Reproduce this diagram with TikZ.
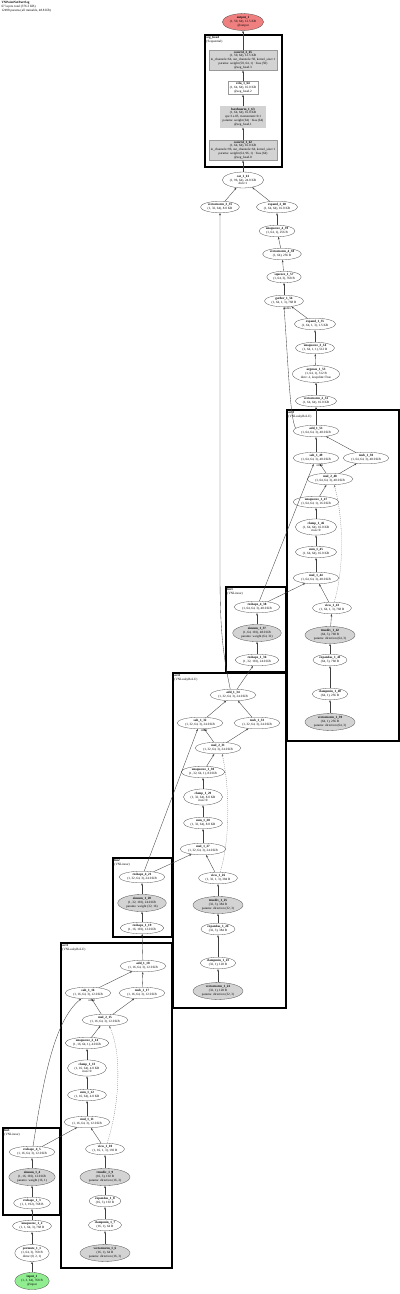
\documentclass[tikz,border=0pt]{standalone}
\usepackage{fontspec}
\setmainfont{Liberation Serif}
\usetikzlibrary{arrows.meta, shapes.geometric, fit, calc}
\definecolor{nodegrey}{HTML}{D3D3D3}
\definecolor{outred}{HTML}{F08080}
\definecolor{ingreen}{HTML}{90EE90}
\newcommand{\nfont}{\fontsize{6.5}{7.6}\selectfont}
\newcommand{\op}[2]{\textbf{#1}\\#2}
\tikzset{
  >={Stealth[length=5pt, width=3.6pt]},
  op/.style={ellipse, draw=black!70, line width=0.6pt, fill=white, align=center,
             inner xsep=3pt, inner ysep=1.5pt, font=\nfont},
  opg/.style={op, fill=nodegrey},
  opr/.style={op, fill=outred},
  opi/.style={op, fill=ingreen},
  lay/.style={rectangle, draw=black!40, line width=0.5pt, fill=nodegrey, align=center,
              inner xsep=4pt, inner ysep=2.5pt, font=\nfont},
  layw/.style={lay, fill=white},
  layd/.style={lay, draw=black!60, line width=0.7pt, double=nodegrey, double distance=1.6pt},
  clus/.style={rectangle, draw=black, line width=2.6pt, inner sep=0pt},
  clab/.style={anchor=north west, align=left, inner sep=1pt, font=\nfont},
  flow/.style={->, line width=0.7pt, draw=black!75},
  flowd/.style={->, line width=0.6pt, draw=black!55, dash pattern=on 2pt off 2pt},
  lbl/.style={font=\nfont, inner sep=0.5pt},
}

\begin{document}
\begin{tikzpicture}[x=2pt, y=-2pt]
  \useasboundingbox (0,0) rectangle (400,1294);
  \node[clab] (hdr) at (1,1) {\textbf{VNPointNetPartSeg}\\67 layers total (376.3 KB)\\12498 params (all trainable, 48.8 KB)};

  % head
  \node[opr] (out) at (243,22) {\op{output\_1}{(1, 50, 64), 12.5 KB\\@output}};
  \node[clus, fit={(205,35) (282,167)}] (seghead) {};
  \node[clab] at ($(seghead.north west)+(1.5,1.5)$) {\textbf{seg\_head}\\(Sequential)};
  \node[lay] (convB) at (243,60) {\op{conv1d\_2\_65}{(1, 50, 64), 12.5 KB\\in\_channels=64, out\_channels=50, kernel\_size=1\\params: weight (50, 64, 1) · bias (50)\\@seg\_head.3}};
  \node[layw] (relu) at (243,88) {\op{relu\_1\_64}{(1, 64, 64), 16.0 KB\\@seg\_head.2}};
  \node[layd] (bn) at (243,117) {\op{batchnorm\_1\_63}{(1, 64, 64), 16.0 KB\\eps=1e-05, momentum=0.1\\params: weight (64) · bias (64)\\@seg\_head.1}};
  \node[lay] (convA) at (243,150) {\op{conv1d\_1\_62}{(1, 64, 64), 16.0 KB\\in\_channels=96, out\_channels=64, kernel\_size=1\\params: weight (64, 96, 1) · bias (64)\\@seg\_head.0}};
  \node[op] (cat) at (243,180) {\op{cat\_1\_61}{(1, 96, 64), 24.0 KB\\dim=1}};
  \node[op] (vnA) at (220,207) {\op{vectornorm\_3\_35}{(1, 32, 64), 8.0 KB}};
  \node[op] (expB) at (277,207) {\op{expand\_2\_60}{(1, 64, 64), 16.0 KB}};
  \node[op] (usqB) at (277,231) {\op{unsqueeze\_4\_59}{(1, 64, 1), 256 B}};
  \node[op] (vnB) at (282,254) {\op{vectornorm\_4\_58}{(1, 64), 256 B}};
  \node[op] (sqz) at (284,277) {\op{squeeze\_1\_57}{(1, 64, 3), 768 B}};
  \node[op] (gat) at (284,301) {\op{gather\_1\_56}{(1, 64, 1, 3), 768 B}};
  \node[op] (expA) at (315,324) {\op{expand\_1\_55}{(1, 64, 1, 3), 1.5 KB}};
  \node[op] (usqA) at (315,348) {\op{unsqueeze\_3\_54}{(1, 64, 1, 1), 512 B}};
  \node[op] (amx) at (316,374) {\op{argmax\_1\_53}{(1, 64, 1), 512 B\\dim=-1, keepdim=True}};
  \node[op] (vnC) at (316,401) {\op{vectornorm\_2\_52}{(1, 64, 64), 16.0 KB}};

  % act3
  \node[clus, fit={(287,410) (399,741)}] (act3) {};
  \node[clab] at ($(act3.north west)+(1.5,1.5)$) {\textbf{act3}\\(VNLeakyReLU)};
  \node[op] (add3) at (316,431) {\op{add\_1\_51}{(1, 64, 64, 3), 48.0 KB}};
  \node[op] (sub3) at (316,458) {\op{sub\_1\_49}{(1, 64, 64, 3), 48.0 KB}};
  \node[op] (rsub3) at (366,458) {\op{rsub\_1\_50}{(1, 64, 64, 3), 48.0 KB}};
  \node[op] (mb3) at (330,479) {\op{mul\_2\_48}{(1, 64, 64, 3), 48.0 KB}};
  \node[op] (usq3) at (316,502) {\op{unsqueeze\_1\_47}{(1, 64, 64, 1), 16.0 KB}};
  \node[op] (clp3) at (316,527) {\op{clamp\_1\_46}{(1, 64, 64), 16.0 KB\\max=0}};
  \node[op] (sum3) at (316,552) {\op{sum\_1\_45}{(1, 64, 64), 16.0 KB}};
  \node[op] (ma3) at (316,578) {\op{mul\_1\_44}{(1, 64, 64, 3), 48.0 KB}};
  \node[op] (view3) at (332,608) {\op{view\_1\_43}{(1, 64, 1, 3), 768 B}};
  \node[opg] (div3) at (330,635) {\op{truediv\_1\_42}{(64, 3), 768 B\\params: direction (64, 3)}};
  \node[op] (exas3) at (330,660) {\op{expandas\_1\_41}{(64, 3), 768 B}};
  \node[op] (cmin3) at (330,694) {\op{clampmin\_1\_40}{(64, 1), 256 B}};
  \node[opg] (vn3) at (330,722) {\op{vectornorm\_1\_39}{(64, 1), 256 B\\params: direction (64, 3)}};

  % lin3
  \node[clus, fit={(226,587) (286,672)}] (lin3) {};
  \node[clab] at ($(lin3.north west)+(1.5,1.5)$) {\textbf{lin3}\\(VNLinear)};
  \node[op] (ro3) at (257,607) {\op{reshape\_4\_38}{(1, 64, 64, 3), 48.0 KB}};
  \node[opg] (eins3) at (257,633) {\op{einsum\_1\_37}{(1, 64, 192), 48.0 KB\\params: weight (64, 32)}};
  \node[op] (ri3) at (257,660) {\op{reshape\_1\_36}{(1, 32, 192), 24.0 KB}};

  % act2
  \node[clus, fit={(173,673) (286,1008)}] (act2) {};
  \node[clab] at ($(act2.north west)+(1.5,1.5)$) {\textbf{act2}\\(VNLeakyReLU)};
  \node[op] (add2) at (233,695) {\op{add\_1\_34}{(1, 32, 64, 3), 24.0 KB}};
  \node[op] (sub2) at (200,723) {\op{sub\_1\_32}{(1, 32, 64, 3), 24.0 KB}};
  \node[op] (rsub2) at (257,723) {\op{rsub\_1\_33}{(1, 32, 64, 3), 24.0 KB}};
  \node[op] (mb2) at (218,748) {\op{mul\_2\_31}{(1, 32, 64, 3), 24.0 KB}};
  \node[op] (usq2) at (203,772) {\op{unsqueeze\_1\_30}{(1, 32, 64, 1), 8.0 KB}};
  \node[op] (clp2) at (203,797) {\op{clamp\_1\_29}{(1, 32, 64), 8.0 KB\\max=0}};
  \node[op] (sum2) at (203,823) {\op{sum\_1\_28}{(1, 32, 64), 8.0 KB}};
  \node[op] (ma2) at (203,849) {\op{mul\_1\_27}{(1, 32, 64, 3), 24.0 KB}};
  \node[op] (view2) at (218,878) {\op{view\_1\_26}{(1, 32, 1, 3), 384 B}};
  \node[opg] (div2) at (218,905) {\op{truediv\_1\_25}{(32, 3), 384 B\\params: direction (32, 3)}};
  \node[op] (exas2) at (218,929) {\op{expandas\_1\_24}{(32, 3), 384 B}};
  \node[op] (cmin2) at (218,963) {\op{clampmin\_1\_23}{(32, 1), 128 B}};
  \node[opg] (vn2) at (218,991) {\op{vectornorm\_1\_22}{(32, 1), 128 B\\params: direction (32, 3)}};

  % lin2
  \node[clus, fit={(113,858) (172,937)}] (lin2) {};
  \node[clab] at ($(lin2.north west)+(1.5,1.5)$) {\textbf{lin2}\\(VNLinear)};
  \node[op] (ro2) at (142,877) {\op{reshape\_4\_21}{(1, 32, 64, 3), 24.0 KB}};
  \node[opg] (eins2) at (142,903) {\op{einsum\_1\_20}{(1, 32, 192), 24.0 KB\\params: weight (32, 16)}};
  \node[op] (ri2) at (142,928) {\op{reshape\_1\_19}{(1, 16, 192), 12.0 KB}};

  % act1
  \node[clus, fit={(61,943) (172,1268)}] (act1) {};
  \node[clab] at ($(act1.north west)+(1.5,1.5)$) {\textbf{act1}\\(VNLeakyReLU)};
  \node[op] (add1) at (143,966) {\op{add\_1\_18}{(1, 16, 64, 3), 12.0 KB}};
  \node[op] (sub1) at (88,993) {\op{sub\_1\_16}{(1, 16, 64, 3), 12.0 KB}};
  \node[op] (rsub1) at (142,993) {\op{rsub\_1\_17}{(1, 16, 64, 3), 12.0 KB}};
  \node[op] (mb1) at (105,1020) {\op{mul\_2\_15}{(1, 16, 64, 3), 12.0 KB}};
  \node[op] (usq1) at (87,1043) {\op{unsqueeze\_2\_14}{(1, 16, 64, 1), 4.0 KB}};
  \node[op] (clp1) at (87,1068) {\op{clamp\_1\_13}{(1, 16, 64), 4.0 KB\\max=0}};
  \node[op] (sum1) at (87,1095) {\op{sum\_1\_12}{(1, 16, 64), 4.0 KB}};
  \node[op] (ma1) at (87,1122) {\op{mul\_1\_11}{(1, 16, 64, 3), 12.0 KB}};
  \node[op] (view1) at (105,1149) {\op{view\_1\_10}{(1, 16, 1, 3), 192 B}};
  \node[opg] (div1) at (105,1177) {\op{truediv\_1\_9}{(16, 3), 192 B\\params: direction (16, 3)}};
  \node[op] (exas1) at (105,1201) {\op{expandas\_1\_8}{(16, 3), 192 B}};
  \node[op] (cmin1) at (105,1225) {\op{clampmin\_1\_7}{(16, 1), 64 B}};
  \node[opg] (vn1) at (105,1253) {\op{vectornorm\_1\_6}{(16, 1), 64 B\\params: direction (16, 3)}};

  % lin1 and input
  \node[clus, fit={(3,1128) (60,1215)}] (lin1) {};
  \node[clab] at ($(lin1.north west)+(1.5,1.5)$) {\textbf{lin1}\\(VNLinear)};
  \node[op] (ro1) at (32,1152) {\op{reshape\_4\_5}{(1, 16, 64, 3), 12.0 KB}};
  \node[opg] (eins1) at (32,1177) {\op{einsum\_1\_4}{(1, 16, 192), 12.0 KB\\params: weight (16, 1)}};
  \node[op] (ri1) at (32,1203) {\op{reshape\_1\_3}{(1, 1, 192), 768 B}};
  \node[op] (usq0) at (32,1226) {\op{unsqueeze\_1\_2}{(1, 1, 64, 3), 768 B}};
  \node[op] (perm) at (32,1253) {\op{permute\_1\_1}{(1, 64, 3), 768 B\\dims=(0, 2, 1)}};
  \node[opi] (inp) at (32,1281) {\op{input\_1}{(1, 3, 64), 768 B\\@input}};

  % head edges
  \draw[flow] (convB) -- (out);
  \draw[flow] (relu) -- (convB);
  \draw[flow] (bn) -- (relu);
  \draw[flow] (convA) -- (bn);
  \draw[flow] (cat) -- (convA);
  \draw[flow] (vnA) -- (cat);
  \draw[flow] (expB) -- (cat);
  \draw[flow] (usqB) -- (expB);
  \draw[flow] (vnB) -- (usqB);
  \draw[flow] (sqz) -- (vnB);
  \draw[flow] (gat) -- (sqz);
  \draw[flow] (expA) -- (gat) node[lbl, at end, anchor=north east] {index};
  \draw[flow] (usqA) -- (expA);
  \draw[flow] (amx) -- (usqA);
  \draw[flow] (vnC) -- (amx);
  \draw[flow] (add3) -- (vnC);
  \draw[flow] (add3.172) .. controls (290,420) and (288,360) .. (gat.south);

  % act3 edges
  \draw[flow] (sub3) -- (add3);
  \draw[flow] (rsub3) -- (add3);
  \draw[flow] (mb3) -- (sub3) node[lbl, at end, anchor=north] {other};
  \draw[flow] (mb3) -- (rsub3);
  \draw[flow] (usq3) -- (mb3);
  \draw[flowd] (view3.70) .. controls (344,570) and (344,520) .. (mb3.-55);
  \draw[flow] (clp3) -- (usq3);
  \draw[flow] (sum3) -- (clp3);
  \draw[flow] (ma3) -- (sum3);
  \draw[flow] (view3) -- (ma3);
  \draw[flow] (div3) -- (view3);
  \draw[flow] (exas3) -- (div3);
  \draw[flow] (cmin3) -- (exas3);
  \draw[flow] (vn3) -- (cmin3);
  \draw[flow] (ro3) -- (ma3);
  \draw[flow] (ro3) -- (sub3);
  \draw[flow] (ri3) -- (eins3);
  \draw[flow] (eins3) -- (ro3);

  % act2 edges
  \draw[flow] (add2) -- (ri3);
  \draw[flow] (add2.115) .. controls (222,650) and (220,625) .. (220,570) -- (vnA.south);
  \draw[flow] (sub2) -- (add2);
  \draw[flow] (rsub2) -- (add2);
  \draw[flow] (mb2) -- (sub2) node[lbl, at end, anchor=north] {other};
  \draw[flow] (mb2) -- (rsub2);
  \draw[flow] (usq2) -- (mb2);
  \draw[flowd] (view2.70) .. controls (230,840) and (230,790) .. (mb2.-55);
  \draw[flow] (clp2) -- (usq2);
  \draw[flow] (sum2) -- (clp2);
  \draw[flow] (ma2) -- (sum2);
  \draw[flow] (view2) -- (ma2);
  \draw[flow] (div2) -- (view2);
  \draw[flow] (exas2) -- (div2);
  \draw[flow] (cmin2) -- (exas2);
  \draw[flow] (vn2) -- (cmin2);
  \draw[flow] (ro2) -- (ma2);
  \draw[flow] (ro2) -- (sub2);
  \draw[flow] (ri2) -- (eins2);
  \draw[flow] (eins2) -- (ro2);

  % act1 edges
  \draw[flow] (add1) -- (ri2);
  \draw[flow] (sub1) -- (add1);
  \draw[flow] (rsub1) -- (add1);
  \draw[flow] (mb1) -- (sub1) node[lbl, at end, anchor=north] {other};
  \draw[flow] (mb1) -- (rsub1);
  \draw[flow] (usq1) -- (mb1);
  \draw[flowd] (view1.70) .. controls (121,1100) and (121,1050) .. (mb1.-55);
  \draw[flow] (clp1) -- (usq1);
  \draw[flow] (sum1) -- (clp1);
  \draw[flow] (ma1) -- (sum1);
  \draw[flow] (view1) -- (ma1);
  \draw[flow] (div1) -- (view1);
  \draw[flow] (exas1) -- (div1);
  \draw[flow] (cmin1) -- (exas1);
  \draw[flow] (vn1) -- (cmin1);
  \draw[flow] (ro1) -- (ma1);
  \draw[flow] (ro1.80) .. controls (44,1075) and (55,1020) .. (sub1.220);
  \draw[flow] (ri1) -- (eins1);
  \draw[flow] (eins1) -- (ro1);
  \draw[flow] (usq0) -- (ri1);
  \draw[flow] (perm) -- (usq0);
  \draw[flow] (inp) -- (perm);
\end{tikzpicture}
\end{document}
